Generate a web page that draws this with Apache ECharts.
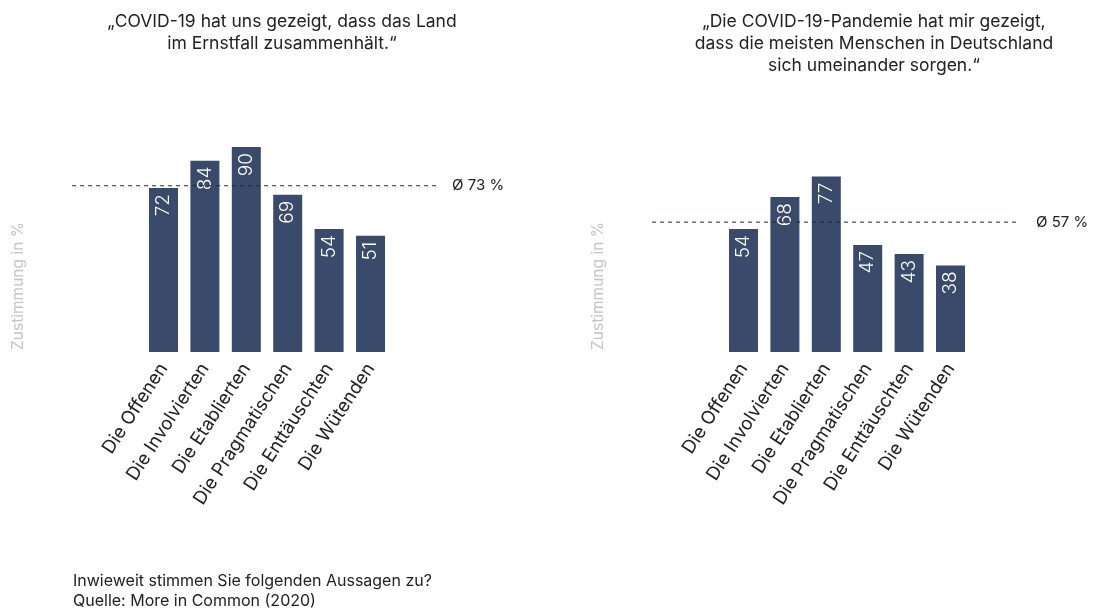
<!DOCTYPE html>
<html><head><meta charset="utf-8">
<script src="https://cdn.jsdelivr.net/npm/echarts@6/dist/echarts.min.js"></script>
<style>html,body{margin:0;padding:0;background:#fff}#c{width:1096px;height:613px}</style>
</head><body><div id="c"></div>
<script>
const categories = ['Die Offenen','Die Involvierten','Die Etablierten','Die Pragmatischen','Die Enttäuschten','Die Wütenden'];
const valuesLeft = [72, 84, 90, 69, 54, 51];
const valuesRight = [54, 68, 77, 47, 43, 38];
const avgLeft = 73;
const avgRight = 57;
const titleLeft = '„COVID-19 hat uns gezeigt, dass das Land\nim Ernstfall zusammenhält.“';
const titleRight = '„Die COVID-19-Pandemie hat mir gezeigt,\ndass die meisten Menschen in Deutschland\nsich umeinander sorgen.“';
const yName = 'Zustimmung in %';
const footer = 'Inwieweit stimmen Sie folgenden Aussagen zu?\nQuelle: More in Common (2020)';

const FONT = 'Inter';
const BAR = '#3a4a6b';
const LINE = '#1f2a44';
const TOP = 124.2, H = 227.8;

function barSeries(idx, data) {
  return {
    type: 'bar', xAxisIndex: idx, yAxisIndex: idx, data: data, barWidth: 29,
    itemStyle: { color: BAR },
    label: { show: true, position: 'insideTop', rotate: 90, align: 'right', verticalAlign: 'middle',
      distance: 6, color: '#fff', fontSize: 19, fontFamily: FONT, fontWeight: 300 }
  };
}
function avgSeries(idx, v) {
  return {
    type: 'line', xAxisIndex: idx, yAxisIndex: idx, data: [[0, v], [1, v]], symbol: 'none',
    lineStyle: { color: LINE, width: 1, type: [4, 4] },
    endLabel: { show: true, formatter: 'Ø ' + v + ' %', color: '#222', fontSize: 15, fontFamily: FONT, distance: 16 },
    silent: true
  };
}
const catAxis = (g) => ({ type: 'category', gridIndex: g, data: categories,
  axisLine: { show: false }, axisTick: { show: false },
  axisLabel: { rotate: 57, margin: 13, fontSize: 18.5, color: '#222', fontFamily: FONT, interval: 0 } });
const valX = (g) => ({ type: 'value', gridIndex: g, min: 0, max: 1, show: false });
const valY = (g) => ({ type: 'value', gridIndex: g, min: 0, max: 100, show: false });

const chart = echarts.init(document.getElementById('c'), null, { renderer: 'canvas' });
chart.setOption({
  animation: false,
  backgroundColor: '#fff',
  title: [
    { text: titleLeft, left: 277, top: 6, textAlign: 'center',
      textStyle: { fontSize: 17.5, fontWeight: 'normal', color: '#222', fontFamily: FONT, lineHeight: 22, align: 'center' } },
    { text: titleRight, left: 869, top: 6, textAlign: 'center',
      textStyle: { fontSize: 17.5, fontWeight: 'normal', color: '#222', fontFamily: FONT, lineHeight: 22, align: 'center' } }
  ],
  grid: [
    { left: 142.8, width: 248.4, top: TOP, height: H },
    { left: 72, width: 364, top: TOP, height: H },
    { left: 722.8, width: 248.4, top: TOP, height: H },
    { left: 652, width: 368, top: TOP, height: H }
  ],
  xAxis: [catAxis(0), valX(1), catAxis(2), valX(3)],
  yAxis: [valY(0), valY(1), valY(2), valY(3)],
  series: [barSeries(0, valuesLeft), avgSeries(1, avgLeft), barSeries(2, valuesRight), avgSeries(3, avgRight)],
  graphic: [
    { type: 'text', x: 18, y: 286, rotation: Math.PI / 2,
      style: { text: yName, fill: '#c4c4c4', fontSize: 15.5, fontFamily: FONT, align: 'center', verticalAlign: 'middle' } },
    { type: 'text', x: 598, y: 286, rotation: Math.PI / 2,
      style: { text: yName, fill: '#c4c4c4', fontSize: 15.5, fontFamily: FONT, align: 'center', verticalAlign: 'middle' } },
    { type: 'text', x: 73, y: 571,
      style: { text: footer, fill: '#222', fontSize: 16, fontFamily: FONT, lineHeight: 20 } }
  ]
});
</script></body></html>
